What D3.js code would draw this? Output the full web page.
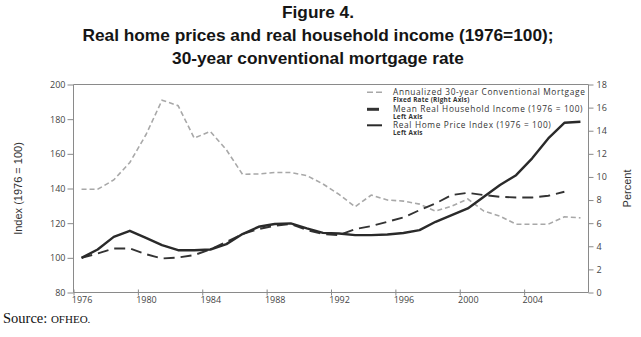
<!DOCTYPE html>
<html><head><meta charset="utf-8">
<script src="https://cdn.jsdelivr.net/npm/d3@7/dist/d3.min.js"></script>
<style>body{margin:0;background:#fff}svg{display:block}</style>
</head><body>
<script>
// ---- data ----
const years = d3.range(1976, 2008);
const homePrice = [100,104.8,112.1,115.6,111.5,107.3,104.4,104.4,104.8,107.9,113.7,117.9,119.5,119.9,117,114.4,114,113.1,113.1,113.5,114.3,116,120.8,124.6,128.5,135.2,142,147.7,157.4,168.9,177.9,178.5];
const income = [100,102.5,105.4,105.4,102.1,99.6,100.2,101.6,104.8,109.2,113.7,116.6,118.5,119.5,116,113.7,113.1,116.6,118.3,120.8,123.3,127.5,131.4,136.2,137.5,136.2,135.2,134.8,134.8,135.8,138.1];
const mortgage = [8.93,8.93,9.74,11.25,13.65,16.64,16.17,13.36,13.94,12.35,10.23,10.26,10.38,10.38,10.12,9.39,8.49,7.42,8.43,8.0,7.91,7.65,7.04,7.48,8.09,7.04,6.61,5.91,5.91,5.91,6.55,6.46];
const xTicks = [1976,1980,1984,1988,1992,1996,2000,2004];
const leftTicks = [80,100,120,140,160,180,200];
const rightTicks = [0,2,4,6,8,10,12,14,16,18];
const titleLines = ["Figure 4.","Real home prices and real household income (1976=100);","30-year conventional mortgage rate"];
const legendItems = [
  {label:"Annualized 30-year Conventional Mortgage", sub:"Fixed Rate (Right Axis)", key:"mortgage"},
  {label:"Mean Real Household Income (1976 = 100)", sub:"Left Axis", key:"income"},
  {label:"Real Home Price Index (1976 = 100)", sub:"Left Axis", key:"home"}
];

const W = 641, H = 337;
const svg = d3.select("body").append("svg").attr("width", W).attr("height", H);

const L = 73.5, R = 588.5, T = 84.5, B = 292.5;
const x = d3.scaleLinear().domain([1976, 2008]).range([L, R]);
const yL = d3.scaleLinear().domain([80, 200]).range([B, T]);
const yR = d3.scaleLinear().domain([0, 18]).range([B, T]);

const axisColor = "#8a8a8a", tickText = "#444";
const tickFont = "'Open Sans', sans-serif";

// title
svg.append("g").selectAll("text").data(titleLines).join("text")
  .attr("x", 318).attr("y", (d,i) => 17.5 + i*23)
  .attr("text-anchor", "middle")
  .attr("font-family", "'Liberation Sans', Arial, sans-serif")
  .attr("font-weight", "bold").attr("font-size", 17.3).attr("fill", "#151515")
  .text(d => d);

// top frame line
svg.append("line").attr("x1", L).attr("x2", R).attr("y1", T).attr("y2", T)
  .attr("stroke", axisColor).attr("stroke-width", 1);

// left axis
const gL = svg.append("g").attr("transform", `translate(${L},0)`)
  .call(d3.axisLeft(yL).tickValues(leftTicks).tickSize(6).tickPadding(2).tickFormat(d3.format("d")));
// right axis
const gR = svg.append("g").attr("transform", `translate(${R},0)`)
  .call(d3.axisRight(yR).tickValues(rightTicks).tickSize(5).tickPadding(3).tickFormat(d3.format("d")));
// bottom axis
const gB = svg.append("g").attr("transform", `translate(0,${B})`)
  .call(d3.axisBottom(x).tickValues(xTicks).tickSize(3).tickFormat(d3.format("d")));
gB.selectAll(".tick line").attr("y1", -3);
gB.selectAll(".tick text").attr("dx", (x(1977) - x(1976)) / 2).attr("dy", "0.55em");

[gL, gR, gB].forEach(g => {
  g.select(".domain").attr("stroke", axisColor);
  g.selectAll(".tick line").attr("stroke", axisColor);
  g.selectAll(".tick text").attr("fill", tickText).attr("font-family", tickFont).attr("font-size", 9);
});
gL.select(".domain").attr("d", `M0,${B}V${T}`);
gR.select(".domain").attr("d", `M0,${B}V${T}`);
gB.select(".domain").attr("d", `M${L},0H${R}`);

// axis titles
svg.append("text").attr("transform", `translate(22,${(T+B)/2}) rotate(-90)`)
  .attr("text-anchor", "middle").attr("font-family", "'Liberation Sans Narrow', 'Liberation Sans', sans-serif")
  .attr("font-size", 11).attr("fill", "#333").text("Index (1976 = 100)");
svg.append("text").attr("transform", `translate(631,${(T+B)/2}) rotate(-90)`)
  .attr("text-anchor", "middle").attr("font-family", "'Liberation Sans Narrow', 'Liberation Sans', sans-serif")
  .attr("font-size", 11).attr("fill", "#333").text("Percent");

// series
const styles = {
  mortgage: {stroke:"#a8a8a8", width:1.6, dash:"5,3"},
  income: {stroke:"#333", width:1.9, dash:"11,6"},
  home: {stroke:"#2a2a2a", width:2.4, dash:null}
};
const mk = (yScale, arr) => d3.line().x((d,i) => x(years[i] + 0.5)).y(d => yScale(d))(arr);

svg.append("path").attr("d", mk(yR, mortgage)).attr("fill","none")
  .attr("stroke", styles.mortgage.stroke).attr("stroke-width", styles.mortgage.width)
  .attr("stroke-dasharray", styles.mortgage.dash);
svg.append("path").attr("d", mk(yL, income)).attr("fill","none")
  .attr("stroke", styles.income.stroke).attr("stroke-width", styles.income.width)
  .attr("stroke-dasharray", styles.income.dash);
svg.append("path").attr("d", mk(yL, homePrice)).attr("fill","none")
  .attr("stroke", styles.home.stroke).attr("stroke-width", styles.home.width)
  .attr("stroke-linejoin","round");

// legend
const lg = svg.append("g");
const rowY = [92.3, 109.3, 125.3];
legendItems.forEach((it, i) => {
  const y0 = rowY[i];
  const s = styles[it.key];
  if (it.key === "mortgage") {
    lg.append("line").attr("x1", 367).attr("x2", 382).attr("y1", y0).attr("y2", y0)
      .attr("stroke", s.stroke).attr("stroke-width", 1.6).attr("stroke-dasharray", "6,3");
  } else if (it.key === "income") {
    lg.append("line").attr("x1", 367).attr("x2", 379).attr("y1", y0).attr("y2", y0)
      .attr("stroke", "#333").attr("stroke-width", 3);
  } else {
    lg.append("line").attr("x1", 367).attr("x2", 382).attr("y1", y0).attr("y2", y0)
      .attr("stroke", "#2a2a2a").attr("stroke-width", 2);
  }
  lg.append("text").attr("x", 393).attr("y", y0 + 2.6)
    .attr("font-family", tickFont).attr("font-size", 8.3).attr("letter-spacing", 0.65)
    .attr("fill", "#333").text(it.label);
  lg.append("text").attr("x", 393).attr("y", y0 + 10)
    .attr("font-family", tickFont).attr("font-size", 6.4).attr("font-weight", "bold")
    .attr("letter-spacing", 0.25).attr("fill", "#333").text(it.sub);
});

// source
const src = svg.append("text").attr("x", 3).attr("y", 323)
  .attr("font-family", "'Liberation Serif', serif").attr("font-size", 14.5).attr("fill", "#111");
src.append("tspan").text("Source: ");
src.append("tspan").attr("font-size", 11).text("OFHEO.");
</script>
</body></html>
